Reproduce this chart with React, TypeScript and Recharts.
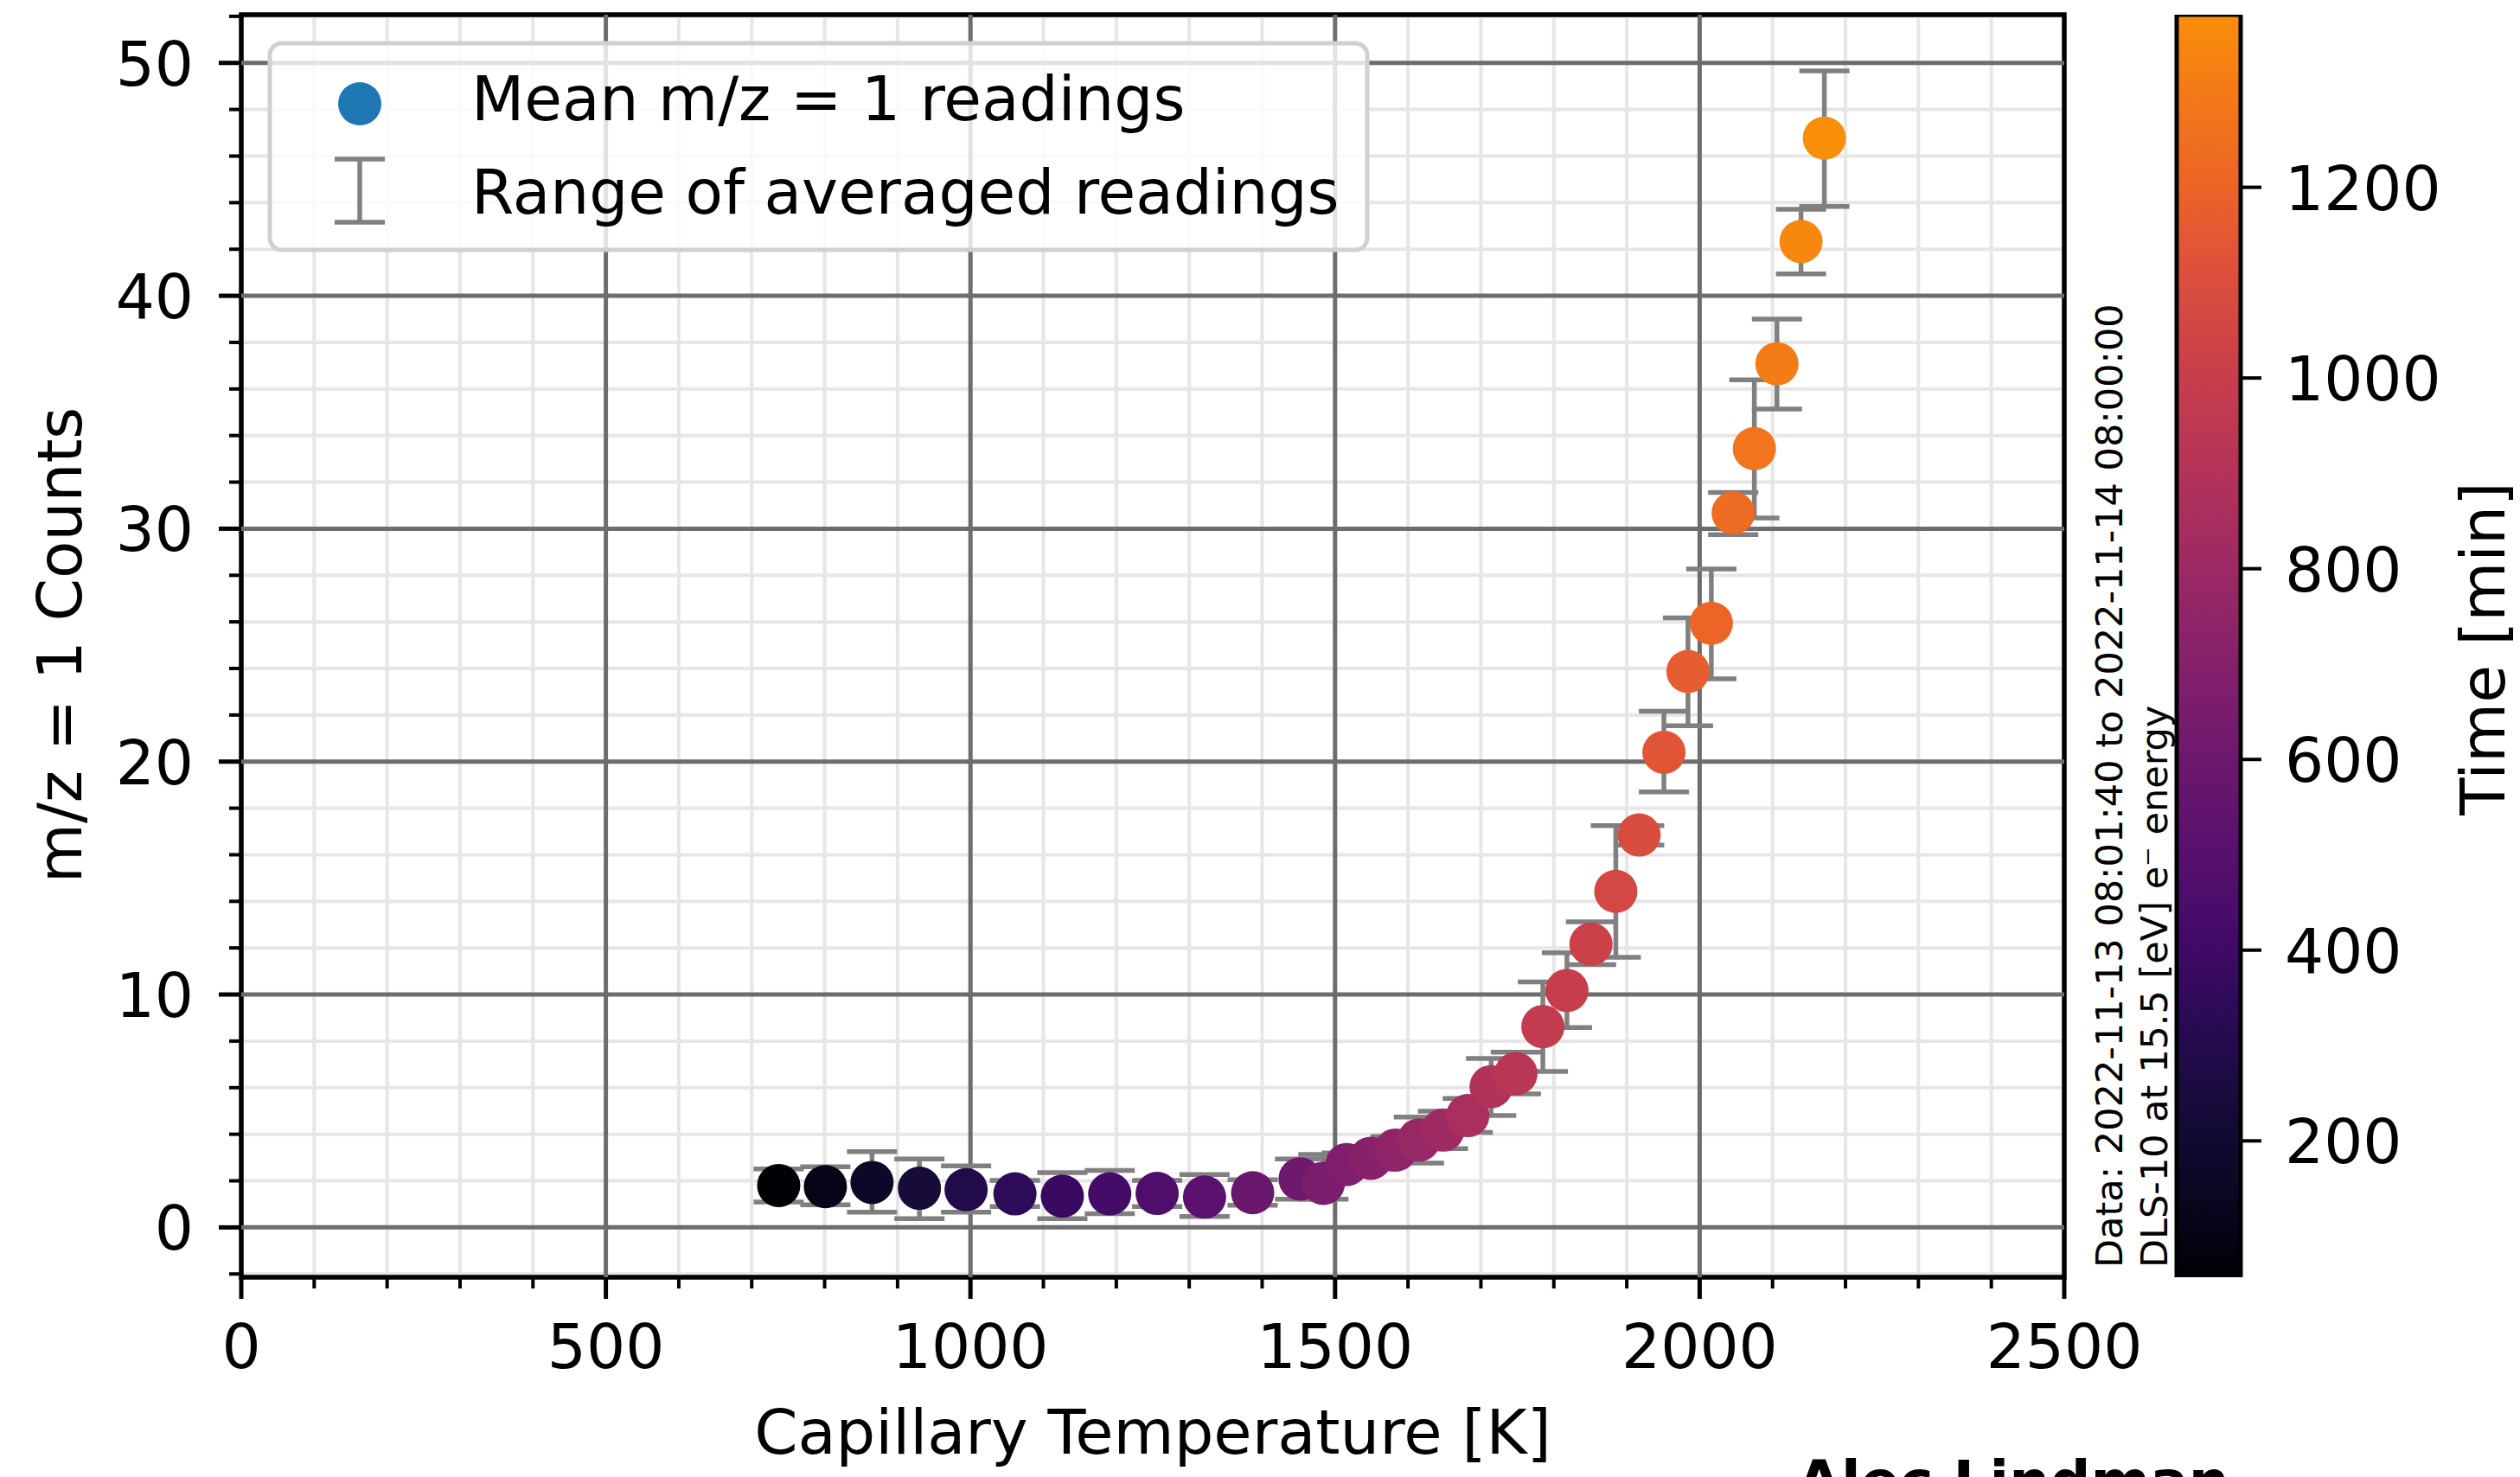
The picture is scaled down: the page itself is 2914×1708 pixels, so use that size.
import {
  Bar,
  BarChart,
  CartesianGrid,
  ErrorBar,
  ReferenceArea,
  ReferenceLine,
  Scatter,
  ScatterChart,
  XAxis,
  YAxis,
} from "recharts";

// capillary temperature [K] of each averaged reading
const temperatureK = [
  737, 801, 865, 930, 994, 1061, 1126, 1191, 1256, 1321, 1387, 1452, 1484, 1516, 1549, 1583, 1615,
  1648, 1682, 1714, 1748, 1785, 1818, 1851, 1885, 1917, 1951, 1984, 2016, 2046, 2075, 2106, 2139, 2171,
];
// mean m/z = 1 counts
const meanCounts = [
  1.8, 1.75, 1.93, 1.68, 1.62, 1.44, 1.34, 1.44, 1.46, 1.3, 1.49, 2.08, 1.89, 2.7, 2.97, 3.32, 3.75,
  4.18, 4.8, 6.04, 6.6, 8.62, 10.17, 12.16, 14.43, 16.85, 20.4, 23.87, 25.94, 30.68, 33.44, 37.08, 42.33, 46.77,
];
// min / max of the readings that were averaged
const rangeLow = [
  1.09, 0.97, 0.65, 0.38, 0.65, 0.9, 0.38, 0.59, 0.9, 0.47, 0.95, 1.21, 1.21, 2.2, 2.5, 2.8, 2.76,
  3.38, 4.08, 4.8, 5.73, 6.7, 8.58, 11.28, 11.6, 16.42, 18.7, 21.54, 23.55, 29.75, 30.46, 35.14, 40.94, 43.84,
];
const rangeHigh = [
  2.51, 2.6, 3.25, 2.94, 2.64, 2.02, 2.35, 2.45, 2.02, 2.27, 2.05, 2.94, 3.13, 3.2, 3.45, 3.9, 4.74,
  4.99, 5.54, 7.25, 7.52, 10.54, 11.79, 13.12, 17.25, 17.25, 22.16, 26.17, 28.27, 31.56, 36.39, 39.0, 43.72, 49.66,
];
// elapsed time [min], drives the colour
const timeMin = [
  57, 110, 163, 234, 287, 339, 384, 419, 463, 516, 587, 604, 657, 675, 710, 745, 781, 816, 860, 896,
  931, 975, 993, 1019, 1063, 1090, 1134, 1169, 1204, 1231, 1275, 1310, 1354, 1381,
];

const xMajorTicks = [0, 500, 1000, 1500, 2000, 2500];
const xMinorTicks = [
  0, 100, 200, 300, 400, 500, 600, 700, 800, 900, 1000, 1100, 1200, 1300, 1400, 1500, 1600, 1700,
  1800, 1900, 2000, 2100, 2200, 2300, 2400, 2500,
];
const yMajorTicks = [0, 10, 20, 30, 40, 50];
const yMinorTicks = [
  -2, 0, 2, 4, 6, 8, 10, 12, 14, 16, 18, 20, 22, 24, 26, 28, 30, 32, 34, 36, 38, 40, 42, 44, 46, 48, 50, 52,
];
const colorbarTicks = [200, 400, 600, 800, 1000, 1200];

const X_DOMAIN: [number, number] = [0, 2500];
const Y_DOMAIN: [number, number] = [-2.14, 52.07];
const T_MIN = Math.min(...timeMin);
const T_MAX = Math.max(...timeMin);

// inferno, only the 0 .. 0.75 part is used
const INFERNO = [
  "#000004", "#0a0722", "#160b39", "#280b54", "#420a68", "#57106e", "#6a176e", "#7f1e6c",
  "#932667", "#a82e5f", "#bc3754", "#cc4248", "#dd513a", "#ec6527", "#f37819", "#f98e09",
];

const FONT = "DejaVu Sans";
const FS = 71;
const W = 2914;
const H = 1708;

function hexToRgb(h: string) {
  return [1, 3, 5].map((i) => parseInt(h.slice(i, i + 2), 16));
}

function inferno(time: number) {
  const f = Math.min(1, Math.max(0, (time - T_MIN) / (T_MAX - T_MIN)));
  const pos = f * (INFERNO.length - 1);
  const i = Math.min(INFERNO.length - 2, Math.floor(pos));
  const k = pos - i;
  const a = hexToRgb(INFERNO[i]);
  const b = hexToRgb(INFERNO[i + 1]);
  const c = a.map((v, j) => Math.round(v + (b[j] - v) * k));
  return `rgb(${c[0]},${c[1]},${c[2]})`;
}

const points = temperatureK.map((t, i) => ({
  temp: t,
  counts: meanCounts[i],
  err: [meanCounts[i] - rangeLow[i], rangeHigh[i] - meanCounts[i]],
  time: timeMin[i],
}));

const colorbarData = [{ k: "time", span: [T_MIN, T_MAX] }];

function XTick({ x, y, payload }: any) {
  const major = xMajorTicks.includes(payload.value);
  return (
    <g>
      <line x1={x} x2={x} y1={y} y2={y + (major ? 25 : 13)} stroke="#000" strokeWidth={major ? 5 : 4} />
      {major && (
        <text x={x} y={y + 105} textAnchor="middle" fontSize={FS} fontFamily={FONT} fill="#000">
          {payload.value}
        </text>
      )}
    </g>
  );
}

function YTick({ x, y, payload }: any) {
  const major = yMajorTicks.includes(payload.value);
  return (
    <g>
      <line x1={x} x2={x - (major ? 26 : 14)} y1={y} y2={y} stroke="#000" strokeWidth={major ? 5 : 4} />
      {major && (
        <text x={x - 55} y={y + 26} textAnchor="end" fontSize={FS} fontFamily={FONT} fill="#000">
          {payload.value}
        </text>
      )}
    </g>
  );
}

function ColorbarTick({ x, y, payload }: any) {
  return (
    <g>
      <line x1={x} x2={x + 24} y1={y} y2={y} stroke="#000" strokeWidth={4} />
      <text x={x + 51} y={y + 26} textAnchor="start" fontSize={FS} fontFamily={FONT} fill="#000">
        {payload.value}
      </text>
    </g>
  );
}

function Dot(props: any) {
  const time = props.payload?.time ?? props.time;
  return <circle cx={props.cx} cy={props.cy} r={25} fill={inferno(time)} />;
}

export default function App() {
  return (
    <div style={{ position: "absolute", left: 0, top: 0, width: W, height: H, background: "#fff", overflow: "hidden" }}>
      <svg width={0} height={0} style={{ position: "absolute" }}>
        <defs>
          <linearGradient id="infernoBar" x1="0" y1="1" x2="0" y2="0">
            {INFERNO.map((c, i) => (
              <stop key={i} offset={i / (INFERNO.length - 1)} stopColor={c} />
            ))}
          </linearGradient>
        </defs>
      </svg>

      <div style={{ position: "absolute", left: 0, top: 0 }}>
        <ScatterChart width={W} height={H} margin={{ top: 17, right: 527, bottom: 171, left: 19 }}>
          <CartesianGrid stroke="#e6e6e6" strokeWidth={4} />
          <XAxis
            type="number"
            dataKey="temp"
            domain={X_DOMAIN}
            ticks={xMinorTicks}
            interval={0}
            allowDataOverflow
            height={60}
            axisLine={false}
            tickLine={false}
            tickSize={0}
            tickMargin={0}
            tick={XTick}
          />
          <YAxis
            type="number"
            dataKey="counts"
            domain={Y_DOMAIN}
            ticks={yMinorTicks}
            interval={0}
            allowDataOverflow
            width={260}
            axisLine={false}
            tickLine={false}
            tickSize={0}
            tickMargin={0}
            tick={YTick}
          />
          {xMajorTicks.slice(1, -1).map((v) => (
            <ReferenceLine key={`x${v}`} x={v} stroke="#6d6d6d" strokeWidth={5} />
          ))}
          {yMajorTicks.map((v) => (
            <ReferenceLine key={`y${v}`} y={v} stroke="#6d6d6d" strokeWidth={5} />
          ))}
          <Scatter data={points} dataKey="counts" shape={Dot} isAnimationActive={false}>
            <ErrorBar dataKey="err" direction="y" width={29} stroke="#808080" strokeWidth={5.5} />
          </Scatter>
          <ReferenceArea
            x1={X_DOMAIN[0]}
            x2={X_DOMAIN[1]}
            y1={Y_DOMAIN[0]}
            y2={Y_DOMAIN[1]}
            fill="none"
            stroke="#000"
            strokeWidth={5.5}
          />
        </ScatterChart>
      </div>

      <div style={{ position: "absolute", left: 2400, top: 0 }}>
        <BarChart
          width={514}
          height={H}
          data={colorbarData}
          margin={{ top: 17, right: 0, bottom: 231, left: 117 }}
          barCategoryGap={0}
        >
          <XAxis dataKey="k" hide />
          <YAxis
            orientation="right"
            type="number"
            domain={[T_MIN, T_MAX]}
            ticks={colorbarTicks}
            interval={0}
            allowDataOverflow
            width={323}
            axisLine={false}
            tickLine={false}
            tickSize={0}
            tickMargin={0}
            tick={ColorbarTick}
          />
          <Bar dataKey="span" fill="url(#infernoBar)" stroke="#000" strokeWidth={5} isAnimationActive={false} />
        </BarChart>
      </div>

      <svg
        width={W}
        height={H}
        style={{ position: "absolute", left: 0, top: 0, pointerEvents: "none" }}
        fontFamily={FONT}
      >
        {/* legend */}
        <rect x={312} y={50} width={1269} height={239} rx={14} fill="#fff" fillOpacity={0.8} stroke="#d0d0d0" strokeWidth={5} />
        <circle cx={416} cy={120} r={25} fill="#1f77b4" />
        <g stroke="#808080" strokeWidth={5.5}>
          <line x1={416} x2={416} y1={184} y2={257} />
          <line x1={387} x2={445} y1={184} y2={184} />
          <line x1={387} x2={445} y1={257} y2={257} />
        </g>
        <text x={545} y={139} fontSize={FS}>Mean m/z = 1 readings</text>
        <text x={545} y={247} fontSize={FS}>Range of averaged readings</text>

        {/* axis labels */}
        <text x={1333} y={1681} fontSize={72} textAnchor="middle">Capillary Temperature [K]</text>
        <text transform="translate(94,746) rotate(-90)" fontSize={FS} textAnchor="middle">m/z = 1 Counts</text>
        <text transform="translate(2896,750) rotate(-90)" fontSize={FS} textAnchor="middle">Time [min]</text>

        {/* data note */}
        <text transform="translate(2454,1466) rotate(-90)" fontSize={43}>
          Data: 2022-11-13 08:01:40 to 2022-11-14 08:00:00
        </text>
        <text transform="translate(2506,1466) rotate(-90)" fontSize={43}>
          DLS-10 at 15.5 [eV] e⁻ energy
        </text>

        <text x={2078} y={1736} fontSize={66} fontWeight="bold">Alec Lindman</text>
      </svg>
    </div>
  );
}
